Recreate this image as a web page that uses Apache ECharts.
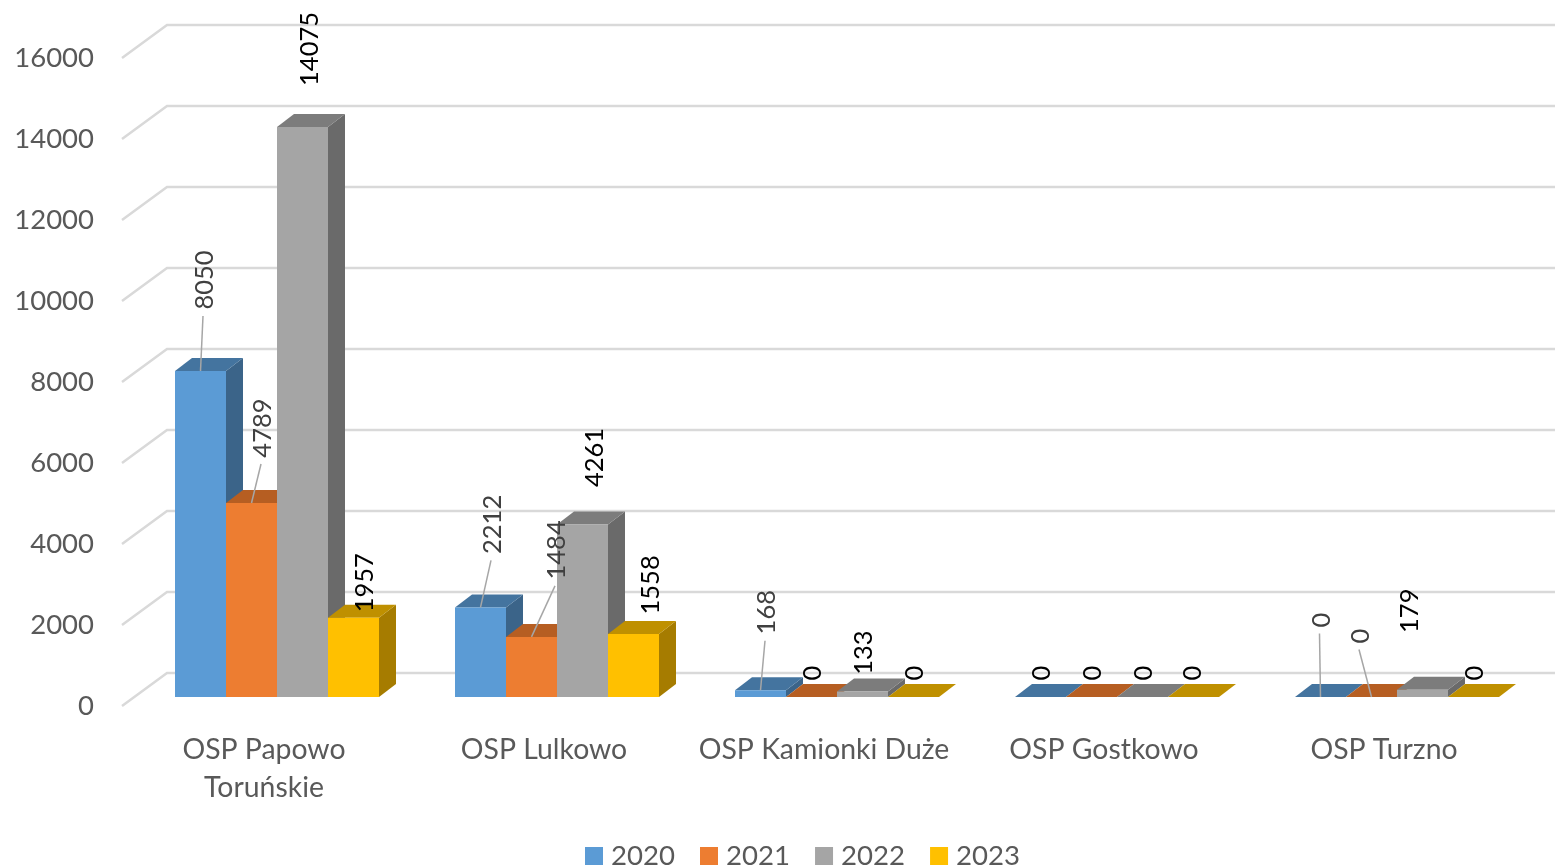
<!DOCTYPE html>
<html>
<head>
<meta charset="utf-8">
<style>html,body{margin:0;padding:0;background:#fff}#c{width:1555px;height:867px}</style>
<script src="https://cdn.jsdelivr.net/npm/echarts@6/dist/echarts.min.js"></script>
</head>
<body>
<div id="c"></div>
<script>
var categories = ['OSP Papowo\nToruńskie', 'OSP Lulkowo', 'OSP Kamionki Duże', 'OSP Gostkowo', 'OSP Turzno'];
var yTicks = [0, 2000, 4000, 6000, 8000, 10000, 12000, 14000, 16000];
var seriesNames = ['2020', '2021', '2022', '2023'];
var values2020 = [8050, 2212, 168, 0, 0];
var values2021 = [4789, 1484, 0, 0, 0];
var values2022 = [14075, 4261, 133, 0, 179];
var values2023 = [1957, 1558, 0, 0, 0];
var allValues = [values2020, values2021, values2022, values2023];

// styles and layout, kept apart from the data
var frontColors = ['#5b9bd5', '#ed7d31', '#a5a5a5', '#ffc000'];
var topColors = ['#44749f', '#b65e22', '#7c7c7c', '#bf9000'];
var sideColors = ['#3b6489', '#9c5020', '#6a6a6a', '#a67c00'];
var font = 'Lato, Carlito, sans-serif';
var WALL_DX = 45, WALL_DY = 33;      // depth of the side wall
var BAR_IN_X = 13, BAR_IN_Y = 9;     // bar's front plane inside the floor
var BAR_DX = 17, BAR_DY = 13;        // bar depth
var BAR_FRAC = 51 / 280;             // bar width / category band
// label offsets from the bar's front-top centre, [dx, dy], one row per series
var labelNudge = [
  [[3.5, -91], [11.5, -83], [5.5, -78], [0, -24], [0, -77]],
  [[10.5, -75], [24.5, -87], [0, -24], [0, -24], [-11.5, -61]],
  [[6.5, -78], [11.5, -67], [0.5, -39], [0, -24], [-13.5, -79]],
  [[10.5, -35], [16.5, -49], [0, -24], [-1.5, -24], [0, -24]]
];
// whether a label is joined to its bar by a leader line
var leaderFlags = [
  [1, 1, 1, 0, 1],
  [1, 1, 0, 0, 1],
  [0, 0, 0, 0, 0],
  [0, 0, 0, 0, 0]
];

function poly(points, fill) {
  return { type: 'polygon', shape: { points: points }, style: { fill: fill }, silent: true };
}

function barRenderer(s) {
  return function (params, api) {
    var cat = api.value(0), val = api.value(1);
    var band = api.size([1, 0])[0];
    var w = band * BAR_FRAC;
    var base = api.coord([cat, 0]);
    var top = api.coord([cat, val]);
    var cx = base[0] + BAR_IN_X + (s - 1.5) * w;
    var x0 = cx - w / 2, x1 = cx + w / 2;
    var y0 = base[1] - BAR_IN_Y, y1 = top[1] - BAR_IN_Y;
    var children = [];
    if (y0 - y1 > 0.01) {
      children.push(poly([[x1, y1], [x1 + BAR_DX, y1 - BAR_DY], [x1 + BAR_DX, y0 - BAR_DY], [x1, y0]], sideColors[s]));
    }
    children.push(poly([[x0, y1], [x0 + BAR_DX, y1 - BAR_DY], [x1 + BAR_DX, y1 - BAR_DY], [x1, y1]], topColors[s]));
    if (y0 - y1 > 0.01) {
      children.push(poly([[x0, y1], [x1, y1], [x1, y0], [x0, y0]], frontColors[s]));
    }
    return { type: 'group', children: children };
  };
}

function wallRenderer(params, api) {
  var p = api.coord([0, api.value(1)]);
  var left = params.coordSys.x - 2, y = p[1];
  return {
    type: 'polyline',
    silent: true,
    shape: { points: [[left, y], [left + WALL_DX, y - WALL_DY], [1560, y - WALL_DY]] },
    style: { stroke: '#d9d9d9', lineWidth: 2.5, fill: null }
  };
}

function labelRenderer(params, api) {
  var cat = api.value(0), val = api.value(1), s = api.value(2);
  var band = api.size([1, 0])[0];
  var w = band * BAR_FRAC;
  var top = api.coord([cat, val]);
  var cx = top[0] + BAR_IN_X + (s - 1.5) * w;
  var yTop = top[1] - BAR_IN_Y;
  var nudge = labelNudge[s][cat];
  var lx = cx + nudge[0], ly = yTop + nudge[1];
  var hasLeader = leaderFlags[s][cat];
  var txt = String(val);
  var children = [];
  if (hasLeader) {
    children.push({
      type: 'line', silent: true,
      shape: { x1: cx, y1: yTop, x2: lx - 1, y2: ly + txt.length * 7.5 + 6 },
      style: { stroke: '#a6a6a6', lineWidth: 1.5 }
    });
  }
  children.push({
    type: 'text', silent: true, x: lx + 1, y: ly, rotation: Math.PI / 2,
    style: {
      text: txt, font: '25.5px ' + font, fill: hasLeader ? '#404040' : '#000000',
      textAlign: 'center', textVerticalAlign: 'middle'
    }
  });
  return { type: 'group', children: children };
}

var series = [{
  name: 'walls', type: 'custom', renderItem: wallRenderer, silent: true, z: 1,
  encode: { x: 0, y: 1 }, clip: false,
  data: yTicks.map(function (t) { return [0, t]; })
}];
seriesNames.forEach(function (name, s) {
  series.push({
    name: name, type: 'custom', renderItem: barRenderer(s), z: 2 + s, clip: false,
    encode: { x: 0, y: 1 }, itemStyle: { color: frontColors[s] },
    data: allValues[s].map(function (v, c) { return [c, v]; })
  });
});
var labelData = [];
allValues.forEach(function (vals, s) {
  vals.forEach(function (v, c) { labelData.push([c, v, s]); });
});
series.push({
  name: 'labels', type: 'custom', renderItem: labelRenderer, z: 10, clip: false, silent: true,
  encode: { x: 0, y: 1 }, data: labelData
});

var chart = echarts.init(document.getElementById('c'), null, { renderer: 'canvas' });
chart.setOption({
  animation: false,
  backgroundColor: '#ffffff',
  grid: { left: 124, right: 31, top: 58, bottom: 161, containLabel: false },
  xAxis: {
    type: 'category', data: categories,
    axisLine: { show: false }, axisTick: { show: false }, splitLine: { show: false },
    axisLabel: { interval: 0, color: '#595959', fontFamily: font, fontSize: 28.4, lineHeight: 38, margin: 25 }
  },
  yAxis: {
    type: 'value', min: 0, max: 16000, interval: 2000,
    axisLine: { show: false }, axisTick: { show: false }, splitLine: { show: false },
    axisLabel: {
      color: '#595959', fontFamily: font, fontSize: 27.5, margin: 30, padding: [6, 0, 0, 0],
      formatter: function (v) { return String(v); }
    }
  },
  legend: {
    data: seriesNames.map(function (n, i) { return { name: n, icon: 'rect', itemStyle: { color: frontColors[i] } }; }),
    top: 842, left: 585, padding: 0, itemWidth: 18, itemHeight: 18, itemGap: 25, selectedMode: false,
    textStyle: { color: '#595959', fontFamily: font, fontSize: 27.6, padding: [0, 0, 0, 3] }
  },
  series: series
});
</script>
</body>
</html>
